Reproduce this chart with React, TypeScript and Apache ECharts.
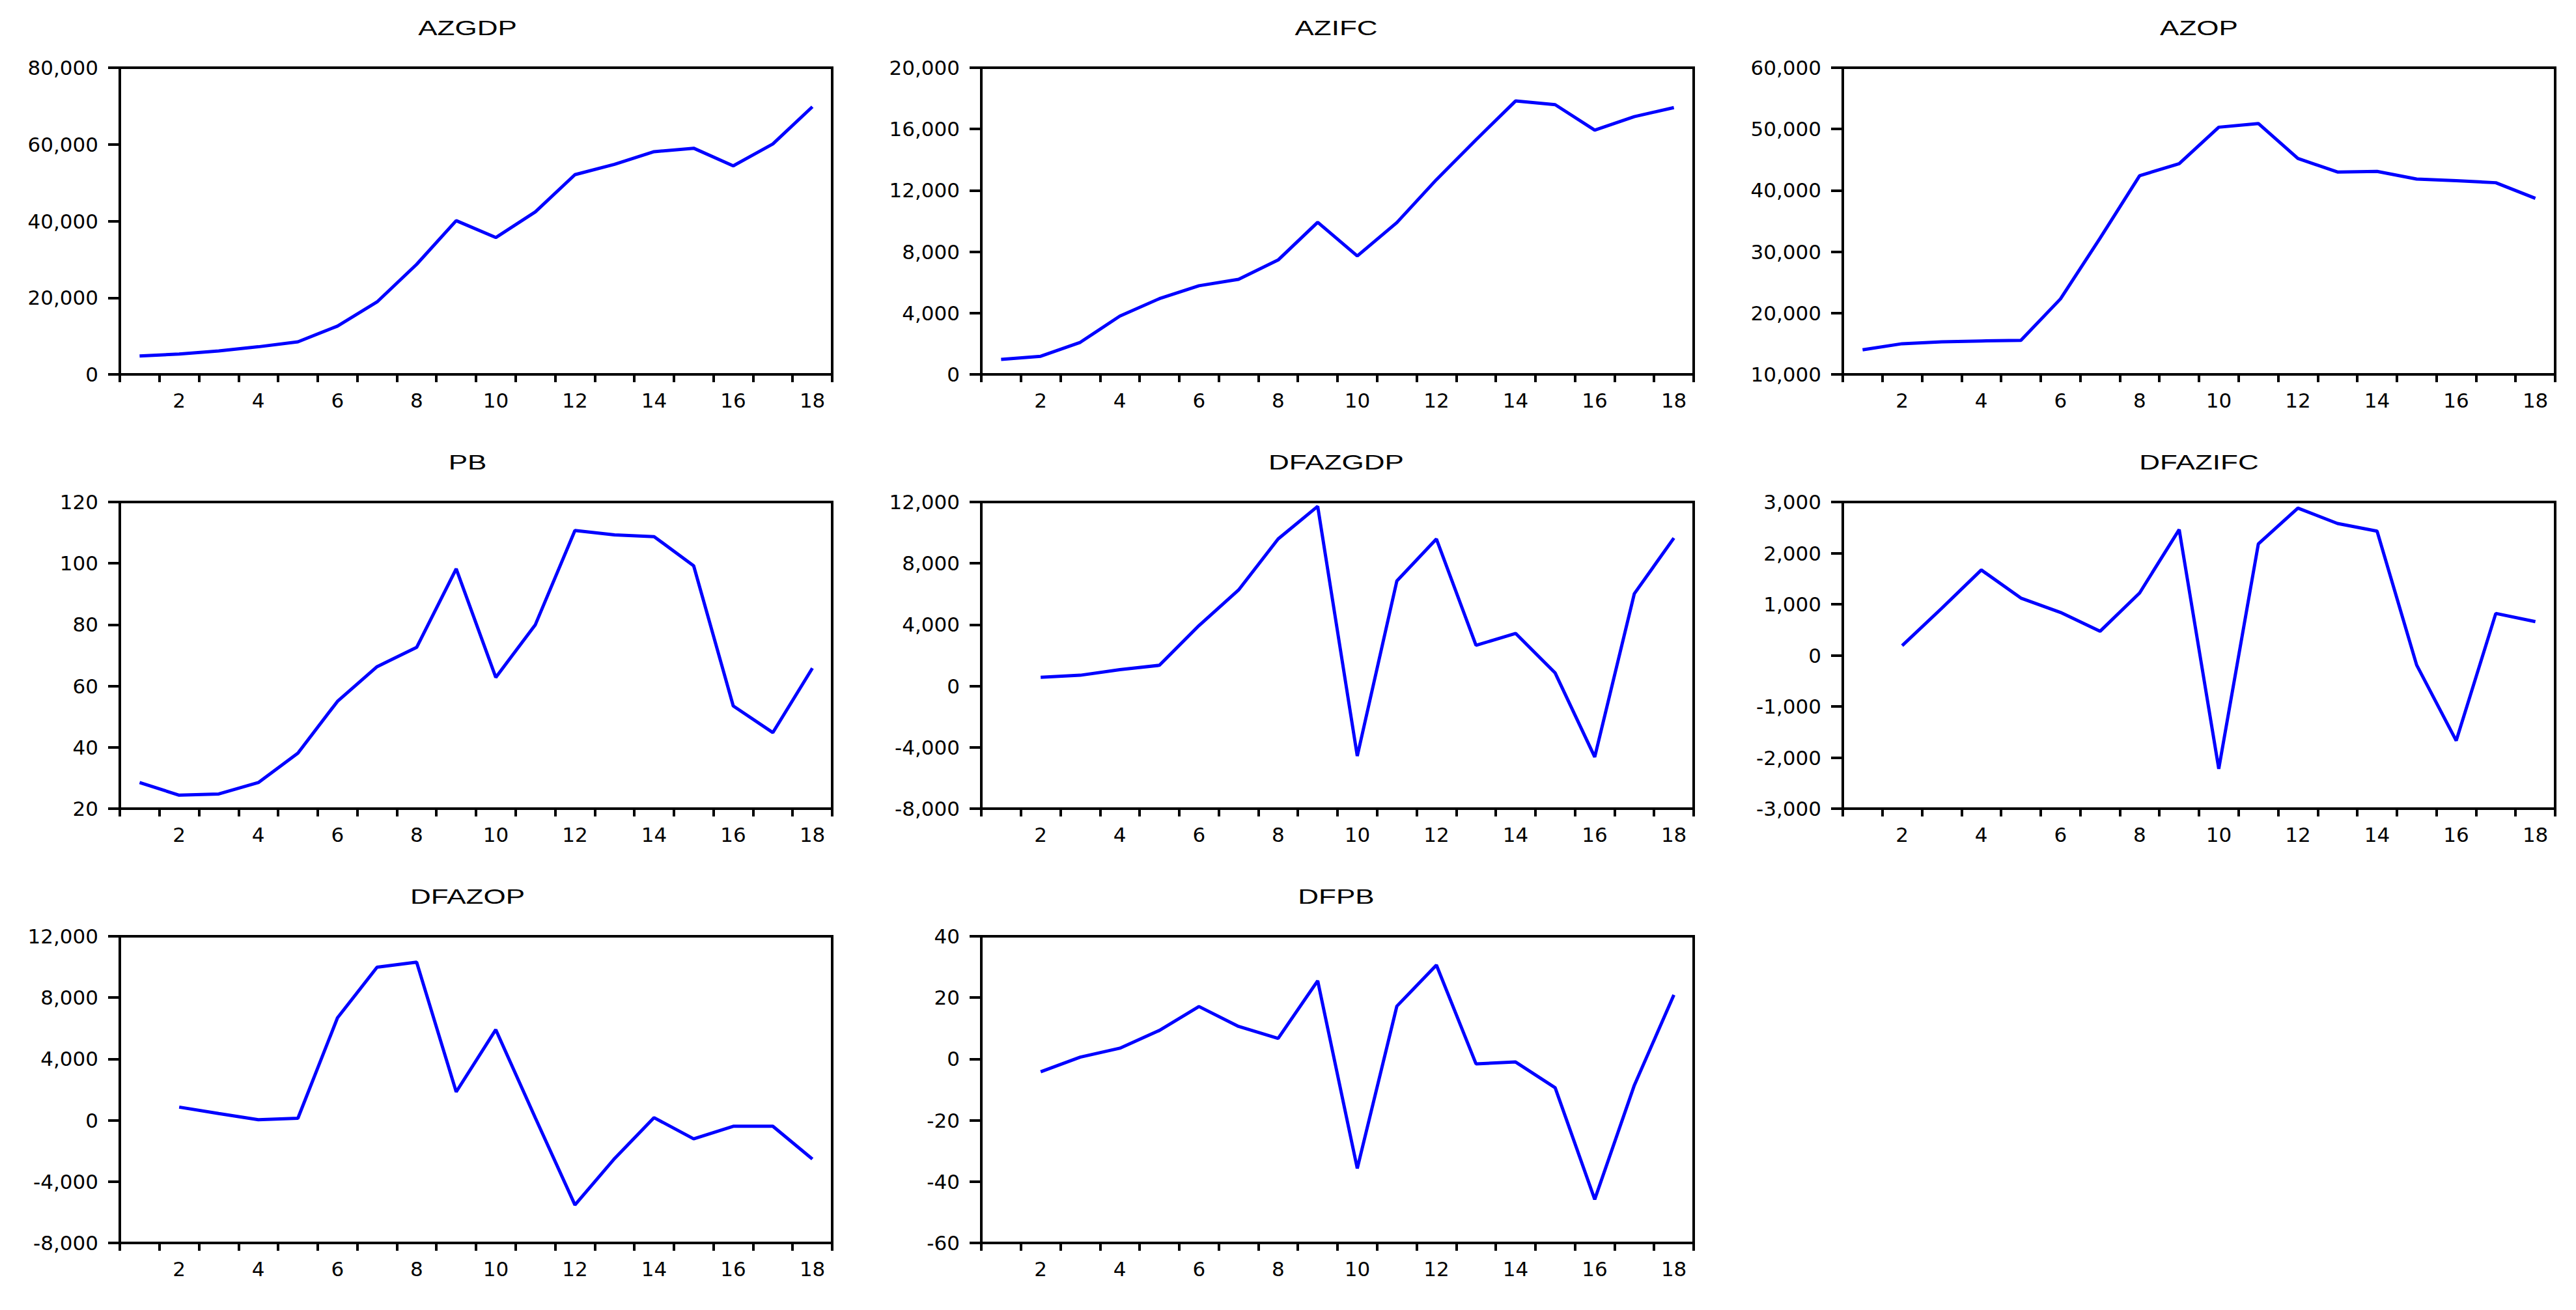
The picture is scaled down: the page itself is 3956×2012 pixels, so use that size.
import React, { useEffect, useRef } from "react";
import * as echarts from "echarts";

const categories = ["1","2","3","4","5","6","7","8","9","10","11","12","13","14","15","16","17","18"];

const azgdp = [4800, 5300, 6100, 7200, 8500, 12600, 18900, 28700, 40100, 35700, 42400, 52100, 54800, 58100, 59000, 54400, 60100, 69800];
const azifc = [980, 1180, 2090, 3800, 4940, 5780, 6200, 7460, 9920, 7720, 9900, 12700, 15300, 17830, 17590, 15930, 16810, 17400];
const azop = [14000, 15000, 15300, 15450, 15550, 22300, 32200, 42400, 44350, 50300, 50900, 45200, 43000, 43100, 41850, 41570, 41250, 38700];
const pb = [28.5, 24.4, 24.8, 28.5, 38.1, 55.0, 66.3, 72.6, 98.2, 62.8, 80.0, 110.7, 109.3, 108.7, 99.2, 53.5, 44.8, 65.8];
const dfazgdp = [null, 570, 700, 1070, 1350, 3940, 6260, 9590, 11720, -4570, 6850, 9590, 2650, 3430, 850, -4630, 6020, 9650];
const dfazifc = [null, 190, 920, 1670, 1120, 840, 470, 1220, 2460, -2220, 2180, 2880, 2580, 2430, -190, -1670, 820, 660];
const dfazop = [null, 860, 440, 40, 130, 6680, 9980, 10310, 1850, 5910, 150, -5520, -2500, 170, -1210, -390, -390, -2530];
const dfpb = [null, -4.2, 0.6, 3.5, 9.3, 17.1, 10.6, 6.7, 25.5, -35.7, 17.2, 30.6, -1.6, -1.0, -9.4, -45.8, -8.6, 20.9];

const titles = ["AZGDP", "AZIFC", "AZOP", "PB", "DFAZGDP", "DFAZIFC", "DFAZOP", "DFPB"];
const seriesData = [azgdp, azifc, azop, pb, dfazgdp, dfazifc, dfazop, dfpb];
const yMins = [0, 0, 10000, 20, -8000, -3000, -8000, -60];
const yMaxs = [80000, 20000, 60000, 120, 12000, 3000, 12000, 40];
const yIntervals = [20000, 4000, 10000, 20, 4000, 1000, 4000, 20];

const colLefts = [184, 1507, 2830];
const rowTops = [104, 771, 1438];
const titleCenters = [718, 2052, 3377];
const titleRowY = [43, 710, 1377];
const plotW = 1094;
const plotH = 471;

const FONT = "'DejaVu Sans', Verdana, sans-serif";
const TITLE_FONT = "'Liberation Sans', Arial, sans-serif";

export default function App() {
  const ref = useRef<HTMLDivElement>(null);
  useEffect(() => {
    document.body.style.margin = "0";
    const chart = echarts.init(ref.current!, null, { renderer: "svg" });
    const grids: any[] = [];
    const xAxes: any[] = [];
    const yAxes: any[] = [];
    const series: any[] = [];
    const graphic: any[] = [];
    titles.forEach((t, i) => {
      const col = i % 3;
      const row = Math.floor(i / 3);
      const left = colLefts[col];
      const top = rowTops[row];
      grids.push({
        left, top, width: plotW, height: plotH,
        show: true, borderColor: "#000", borderWidth: 4, backgroundColor: "transparent",
      });
      graphic.push({
        type: "text",
        x: titleCenters[col],
        y: titleRowY[row],
        scaleX: 1.42,
        style: {
          text: t,
          font: `normal 31px ${TITLE_FONT}`,
          fill: "#000",
          textAlign: "center",
          textVerticalAlign: "middle",
        },
      });
      xAxes.push({
        type: "category",
        gridIndex: i,
        data: categories,
        boundaryGap: true,
        axisLine: { show: true, onZero: false, lineStyle: { color: "#000", width: 4 } },
        axisTick: { show: true, interval: 0, length: 12, lineStyle: { color: "#000", width: 4 } },
        axisLabel: {
          interval: (idx: number) => idx % 2 === 1,
          margin: 24,
          fontFamily: FONT, fontSize: 31, color: "#000",
        },
        splitLine: { show: false },
      });
      yAxes.push({
        type: "value",
        gridIndex: i,
        min: yMins[i], max: yMaxs[i], interval: yIntervals[i],
        axisLine: { show: true, onZero: false, lineStyle: { color: "#000", width: 4 } },
        axisTick: { show: true, length: 18, lineStyle: { color: "#000", width: 4 } },
        axisLabel: {
          margin: 33,
          fontFamily: FONT, fontSize: 31, color: "#000",
          formatter: (v: number) => v.toLocaleString("en-US"),
        },
        splitLine: { show: false },
      });
      series.push({
        type: "line",
        xAxisIndex: i, yAxisIndex: i,
        data: seriesData[i],
        showSymbol: false,
        symbol: "none",
        connectNulls: false,
        lineStyle: { color: "#0000FF", width: 5 },
        itemStyle: { color: "#0000FF" },
      });
    });
    chart.setOption({
      animation: false,
      backgroundColor: "#fff",
      grid: grids, xAxis: xAxes, yAxis: yAxes, series, graphic,
    });
    return () => chart.dispose();
  }, []);
  return <div ref={ref} style={{ width: 3956, height: 2012 }} />;
}
